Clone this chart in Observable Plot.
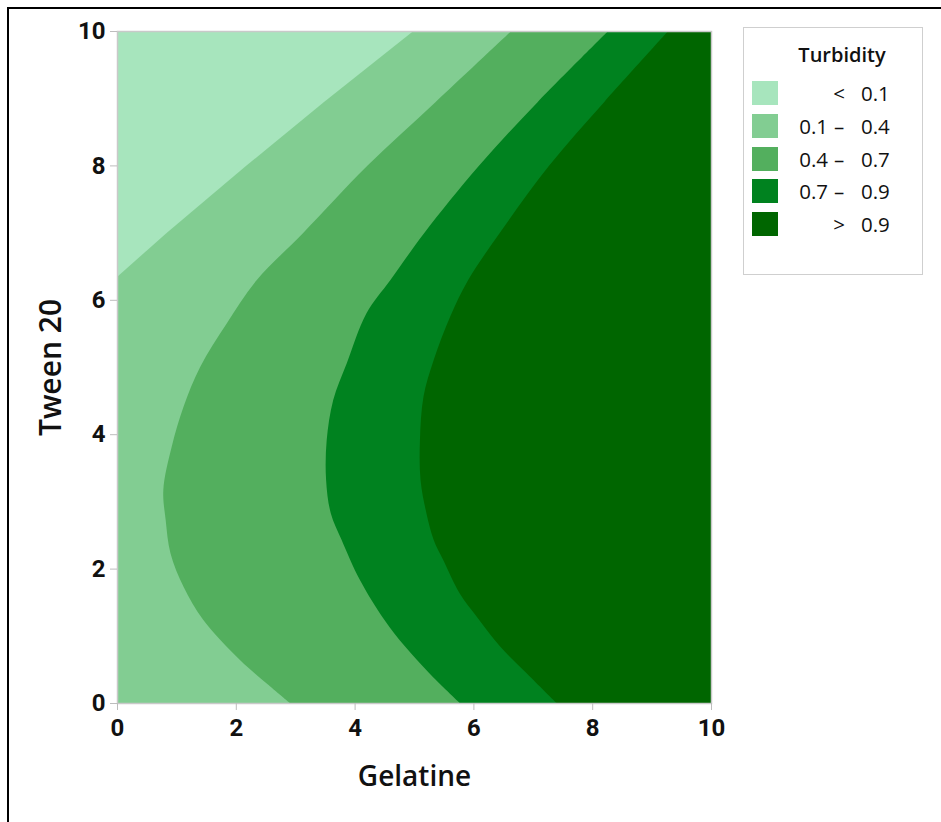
<!DOCTYPE html>
<html>
<head>
<meta charset="utf-8">
<script src="https://cdn.jsdelivr.net/npm/d3@7"></script>
<script src="https://cdn.jsdelivr.net/npm/@observablehq/plot@0.6"></script>
<style>
  body { margin: 0; background: #fff; }
  #wrap { position: relative; width: 941px; height: 822px; overflow: hidden; background: #fff; }
  #border { position: absolute; left: 7px; top: 7px; width: 1000px; height: 1000px; border: 2px solid #000; box-sizing: border-box; }
  #chart { position: absolute; left: 0; top: 0; }
  #legend { position: absolute; left: 743px; top: 27px; width: 180px; height: 248px; border: 1px solid #cfcfcf; box-sizing: border-box; background: #fff; font-family: "Open Sans", sans-serif; color: #111; }
  #legend .title { position: absolute; left: 0; width: 196px; top: 13px; text-align: center; font-size: 20px; font-weight: 600; }
  #legend .row { position: absolute; left: 8px; height: 24px; width: 170px; font-size: 20.5px; line-height: 24px; }
  #legend .sw { position: absolute; left: 0; top: 0; width: 26px; height: 24px; }
  #legend .lo { position: absolute; right: 94px; top: 0; text-align: right; }
  #legend .op { position: absolute; left: 78px; width: 18px; top: 0; text-align: center; }
  #legend .hi { position: absolute; left: 109px; top: 0; }
</style>
</head>
<body>
<div id="wrap">
  <div id="border"></div>
  <div id="chart"></div>
  <div id="legend"></div>
</div>
<script>
// Legend classes
const legendTitle = "Turbidity";
const bandLow  = ["",    "0.1", "0.4", "0.7", ""];
const bandOp   = ["<",   "–",   "–",   "–",   ">"];
const bandHigh = ["0.1", "0.4", "0.7", "0.9", "0.9"];
const bandColors = ["#a7e5bd", "#82cd92", "#53af5e", "#00821f", "#006600"];

// Axis ticks
const gelatineTicks = [0, 2, 4, 6, 8, 10];
const tweenTicks = [0, 2, 4, 6, 8, 10];

// Contour line Turbidity = 0.1 (Tween 20 values and the Gelatine value on the line)
const c01Tween    = [0, 6.34, 6.99, 7.99, 8.94, 10];
const c01Gelatine = [0, 0,    0.83, 2.17, 3.48, 4.99];

// Contour line Turbidity = 0.4
const c04Tween    = [0,    0.29, 0.64, 1.24, 1.73, 2.23, 2.72, 3.17, 3.81, 4.41, 5.00, 5.65, 6.29, 6.99, 7.99, 8.94, 10];
const c04Gelatine = [2.91, 2.52, 2.07, 1.45, 1.12, 0.90, 0.82, 0.78, 0.92, 1.12, 1.40, 1.85, 2.35, 3.13, 4.21, 5.36, 6.64];

// Contour line Turbidity = 0.7
const c07Tween    = [0,    0.45, 0.84, 1.24, 1.83, 2.43, 2.82, 3.32, 3.91, 4.51, 5.06, 5.80, 6.29, 6.99, 7.99, 8.94, 10];
const c07Gelatine = [5.77, 5.25, 4.85, 4.50, 4.09, 3.78, 3.60, 3.52, 3.53, 3.64, 3.87, 4.20, 4.60, 5.17, 6.09, 7.08, 8.27];

// Contour line Turbidity = 0.9
const c09Tween    = [0,    0.44, 0.84, 1.28, 1.63, 2.13, 2.43, 2.82, 3.32, 3.91, 4.56, 5.10, 5.75, 6.29, 6.99, 7.99, 8.94, 10];
const c09Gelatine = [7.40, 6.90, 6.45, 6.06, 5.77, 5.49, 5.33, 5.21, 5.11, 5.10, 5.16, 5.33, 5.61, 5.91, 6.44, 7.27, 8.20, 9.28];

const toRows = (t, g) => t.map((v, i) => ({tween: v, gelatine: g[i]}));
const contours = [
  {rows: toRows(c01Tween, c01Gelatine), curve: "linear"},
  {rows: toRows(c04Tween, c04Gelatine), curve: "catmull-rom"},
  {rows: toRows(c07Tween, c07Gelatine), curve: "catmull-rom"},
  {rows: toRows(c09Tween, c09Gelatine), curve: "catmull-rom"}
];

const tickFont = {fontFamily: "Roboto", fontSize: 24, fontWeight: "bold"};

const chart = Plot.plot({
  width: 941,
  height: 822,
  marginTop: 31,
  marginLeft: 117,
  marginRight: 230,
  marginBottom: 119,
  style: {background: "transparent", color: "#111", overflow: "visible"},
  x: {domain: [0, 10]},
  y: {domain: [0, 10]},
  marks: [
    Plot.frame({fill: bandColors[0], stroke: null}),
    ...contours.map((c, i) => Plot.areaX(c.rows, {
      y: "tween", x1: "gelatine", x2: 10, fill: bandColors[i + 1], curve: c.curve, clip: true
    })),
    Plot.frame({stroke: "#c9c9c9", strokeWidth: 1.5}),
    Plot.axisX({ticks: gelatineTicks, tickSize: 7, tickPadding: 8, stroke: "#bdbdbd", label: null, ...tickFont}),
    Plot.axisY({ticks: tweenTicks, tickSize: 7, tickPadding: 5, stroke: "#bdbdbd", label: null, ...tickFont}),
    Plot.text(["Gelatine"], {frameAnchor: "bottom", dy: 74, lineAnchor: "middle", textAnchor: "middle",
      fill: "#111", fontFamily: "Open Sans", fontSize: 28, fontWeight: 600}),
    Plot.text(["Tween 20"], {frameAnchor: "left", dx: -66, rotate: -90, lineAnchor: "middle", textAnchor: "middle",
      fill: "#111", fontFamily: "Open Sans", fontSize: 30, fontWeight: 600})
  ]
});
document.getElementById("chart").appendChild(chart);

// Legend
const legend = document.getElementById("legend");
const title = document.createElement("div");
title.className = "title";
title.textContent = legendTitle;
legend.appendChild(title);
const rowTops = [53, 86, 119, 151, 184];
bandColors.forEach((col, i) => {
  const row = document.createElement("div");
  row.className = "row";
  row.style.top = rowTops[i] + "px";
  row.innerHTML = `<div class="sw" style="background:${col}"></div>` +
    `<span class="lo">${bandLow[i]}</span><span class="op">${bandOp[i]}</span><span class="hi">${bandHigh[i]}</span>`;
  legend.appendChild(row);
});
</script>
</body>
</html>
